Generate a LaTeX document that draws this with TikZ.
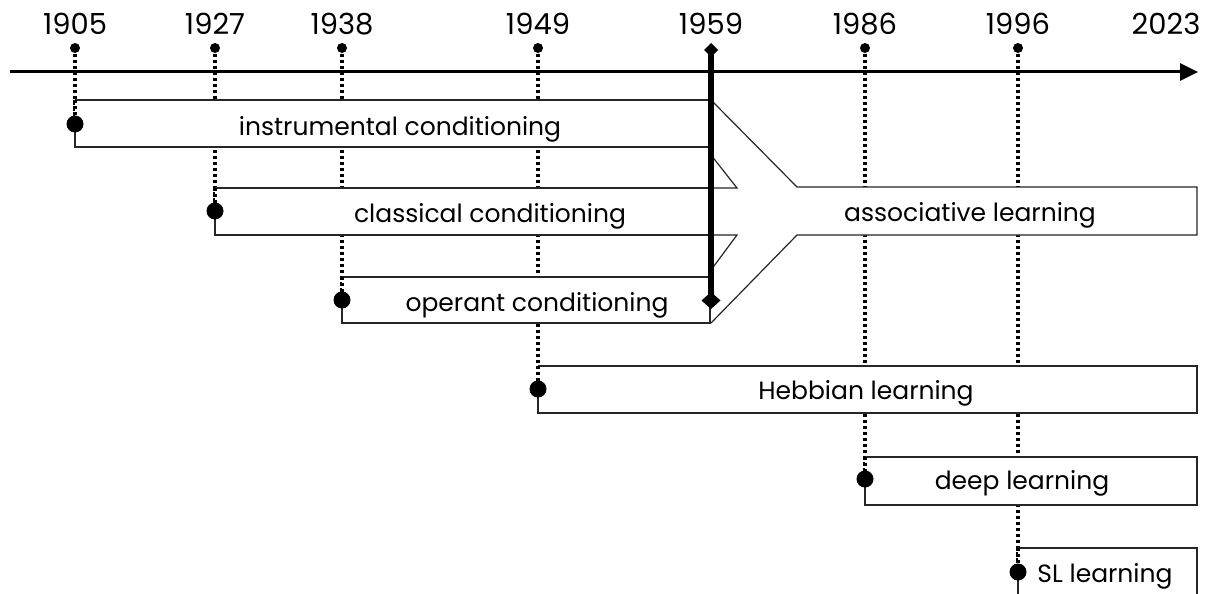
\documentclass[tikz,border=0pt]{standalone}
\usepackage{fontspec}
\setmainfont{Poppins}
\usetikzlibrary{arrows.meta}
\newcommand{\tlbox}[5]{%
  \fill[white] (#1,#2) rectangle (#3,#4);
  \draw[boxline] (#1,#5) -- (#1,#4) -- (#3,#4) -- (#3,#2) -- (#1,#2);
  \draw[dotline] (#1,#2) -- (#1,#5);
}
\begin{document}
\begin{tikzpicture}[x=1pt,y=-1pt,
  boxline/.style={draw=black!85,line width=1.2pt},
  dotline/.style={line width=3.4pt,dash pattern=on 3pt off 3pt},
  yearlbl/.style={anchor=base,inner sep=0pt,font=\fontsize{29}{32}\selectfont},
  boxlbl/.style={anchor=base,inner sep=0pt,font=\fontsize{25}{30}\selectfont},
  smalldot/.style={circle,fill=black,inner sep=0pt,minimum size=10pt},
  bigdot/.style={circle,fill=black,inner sep=0pt,minimum size=17pt}]
\useasboundingbox (0,0) rectangle (1213,594);
% year labels
\node[yearlbl] (y1905) at (75,35) {1905};
\node[yearlbl] (y1927) at (215,35) {1927};
\node[yearlbl] (y1938) at (342,35) {1938};
\node[yearlbl] (y1949) at (538,35) {1949};
\node[yearlbl] (y1959) at (711,35) {1959};
\node[yearlbl] (y1986) at (865,35) {1986};
\node[yearlbl] (y1996) at (1018,35) {1996};
\node[yearlbl] (y2023) at (1166,35) {2023};
% full dotted lines
\draw[dotline] (75,48) -- (75,124);
\draw[dotline] (215,48) -- (215,211);
\draw[dotline] (342,48) -- (342,300);
\draw[dotline] (538,48) -- (538,389);
\draw[dotline] (865,48) -- (865,479);
\draw[dotline] (1018,48) -- (1018,572);
% axis
\draw[line width=3pt,-{Triangle[length=18pt,width=17pt]}] (10,72) coordinate (axs) -- (1198,72) coordinate (axe);
% small dots
\foreach \x/\n in {75/a,215/b,342/c,538/d,865/e,1018/f}
  \node[smalldot] (s\n) at (\x,48) {};
% boxes
\tlbox{75}{100}{710}{147}{124}
\tlbox{215}{188}{710}{235}{211}
\tlbox{342}{277}{710}{323}{300}
\tlbox{538}{366}{1197}{413}{389}
\tlbox{865}{457}{1197}{505}{479}
\tlbox{1018}{548}{1197}{610}{572}
% associative funnel
\filldraw[boxline,fill=white] (711,100) -- (797,187) -- (1197,187) -- (1197,235) -- (797,235) -- (711,323);
\draw[boxline] (711,155) -- (737,188) -- (705,188);
\draw[boxline] (705,235) -- (737,235) -- (711,270);
% big dots
\node[bigdot] (d1905) at (75,124) {};
\node[bigdot] (d1927) at (215,211) {};
\node[bigdot] (d1938) at (342,300) {};
\node[bigdot] (d1949) at (538,389) {};
\node[bigdot] (d1986) at (865,479) {};
\node[bigdot] (d1996) at (1018,572) {};
% labels
\node[boxlbl] (instr) at (400,135) {instrumental conditioning};
\node[boxlbl] (class) at (490,222) {classical conditioning};
\node[boxlbl] (oper) at (537,311) {operant conditioning};
\node[boxlbl] (assoc) at (970,221) {associative learning};
\node[boxlbl] (hebb) at (866,399) {Hebbian learning};
\node[boxlbl] (deep) at (1022,489) {deep learning};
\node[boxlbl] (sl) at (1105,582) {SL learning};
% 1959 thick line
\draw[line width=6.5pt,{Diamond[length=14pt,width=14pt]}-{Diamond[length=17pt,width=19pt]}] (711,43) coordinate (t1) -- (711,309) coordinate (t2);
\end{tikzpicture}
\end{document}
